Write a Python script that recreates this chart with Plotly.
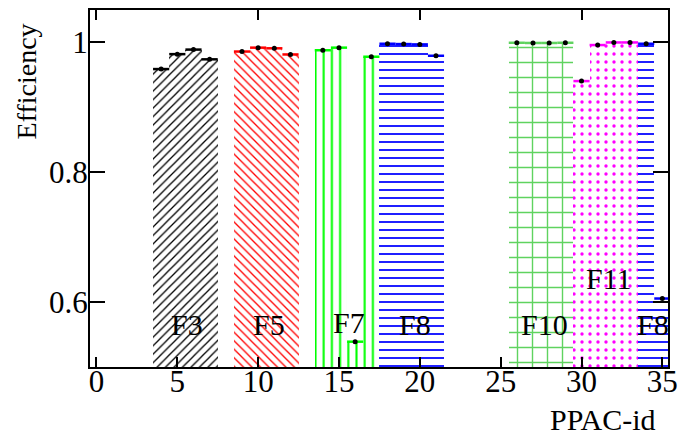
import plotly.graph_objects as go

# ---- data ----
groups = ["F3", "F5", "F7", "F8", "F10", "F11", "F8"]
f3_bins = [4, 5, 6, 7]
f3_eff = [0.959, 0.982, 0.989, 0.974]
f5_bins = [9, 10, 11, 12]
f5_eff = [0.986, 0.992, 0.991, 0.9815]
f7_bins = [14, 15, 16, 17]
f7_eff = [0.988, 0.992, 0.539, 0.978]
f8_bins = [18, 19, 20, 21]
f8_eff = [0.998, 0.9975, 0.997, 0.9795]
f10_bins = [26, 27, 28, 29]
f10_eff = [0.9995, 0.9992, 0.9992, 0.9995]
f11_bins = [30, 31, 32, 33]
f11_eff = [0.9405, 0.996, 1.0, 1.0]
f8b_bins = [34, 35]
f8b_eff = [0.998, 0.6055]

label_x = [5.62, 10.67, 15.65, 19.73, 27.69, 31.70, 34.44]
label_y = [0.566, 0.566, 0.568, 0.566, 0.566, 0.637, 0.566]

x_ticks = [0, 5, 10, 15, 20, 25, 30, 35]
y_ticks = [0.6, 0.8, 1.0]

series = [
    (f3_bins, f3_eff, "black", "/", 6, 0.22),
    (f5_bins, f5_eff, "#ff0000", "\\", 6, 0.22),
    (f7_bins, f7_eff, "#00ff00", "|", 8.2, 0.25),
    (f8_bins, f8_eff, "#0000ff", "-", 8, 0.22),
    (f10_bins, f10_eff, "#5fd35f", "+", 15, 0.18),
    (f11_bins, f11_eff, "#ff00ff", ".", 8, 0.14),
    (f8b_bins, f8b_eff, "#0000ff", "-", 8, 0.22),
]

FONT = "Liberation Serif"

fig = go.Figure()
for bins, eff, col, shape, size, sol in series:
    fig.add_trace(go.Bar(
        x=bins, y=eff, width=[1] * len(bins),
        marker=dict(color="rgba(255,255,255,0)", line=dict(width=0),
                    pattern=dict(shape=shape, fgcolor=col, bgcolor="rgba(255,255,255,0)",
                                 fgopacity=1, size=size, solidity=sol, fillmode="overlay")),
        showlegend=False, hoverinfo="skip",
    ))
for bins, eff, col, shape, size, sol in series:
    fig.add_trace(go.Scatter(
        x=bins, y=eff, mode="markers",
        marker=dict(color="black", size=5),
        error_x=dict(type="constant", value=0.5, color=col, thickness=2.5, width=0),
        showlegend=False, hoverinfo="skip", cliponaxis=True,
    ))

annotations = []
for name, lx, ly in zip(groups, label_x, label_y):
    annotations.append(dict(x=lx, y=ly, xref="x", yref="y", text=name, showarrow=False,
                            xanchor="center", yanchor="middle",
                            font=dict(family=FONT, size=30, color="black")))
annotations.append(dict(x=-0.11, y=0.801, xref="paper", yref="paper", text="Efficiency",
                        showarrow=False, textangle=-90, xanchor="center", yanchor="middle",
                        font=dict(family=FONT, size=28, color="black")))
annotations.append(dict(x=0.982, y=-0.148, xref="paper", yref="paper", text="PPAC-id",
                        showarrow=False, xanchor="right", yanchor="middle",
                        font=dict(family=FONT, size=30, color="black")))

fig.update_layout(
    width=686, height=435,
    margin=dict(l=90, r=8, t=10, b=68),
    paper_bgcolor="white", plot_bgcolor="white",
    barmode="overlay", bargap=0,
    font=dict(family=FONT, size=30, color="black"),
    annotations=annotations,
    xaxis=dict(range=[-0.4, 35.35], tickvals=x_ticks, ticktext=[str(v) for v in x_ticks],
               ticks="inside", ticklen=10, tickwidth=2, tickcolor="black",
               ticklabelstandoff=-14,
               showline=True, linewidth=2, linecolor="black", mirror=True,
               showgrid=False, zeroline=False,
               tickfont=dict(family=FONT, size=31, color="black")),
    xaxis2=dict(range=[-0.4, 35.35], overlaying="x", side="top", tickvals=[0, 10, 20, 30],
                showticklabels=False, ticks="inside", ticklen=10, tickwidth=2,
                tickcolor="black", showgrid=False, zeroline=False, showline=False),
    yaxis=dict(range=[0.5, 1.05], tickvals=y_ticks, ticktext=["0.6", "0.8", "1"],
               ticks="inside", ticklen=15, tickwidth=2, tickcolor="black",
               ticklabelstandoff=-6,
               showline=True, linewidth=2, linecolor="black", mirror="ticks",
               showgrid=False, zeroline=False,
               tickfont=dict(family=FONT, size=31, color="black")),
)
# invisible point that activates the top axis ticks
fig.add_trace(go.Scatter(x=[0], y=[0.4], xaxis="x2", mode="markers",
                         marker=dict(opacity=0), showlegend=False, hoverinfo="skip"))

fig.write_html("out.html")
